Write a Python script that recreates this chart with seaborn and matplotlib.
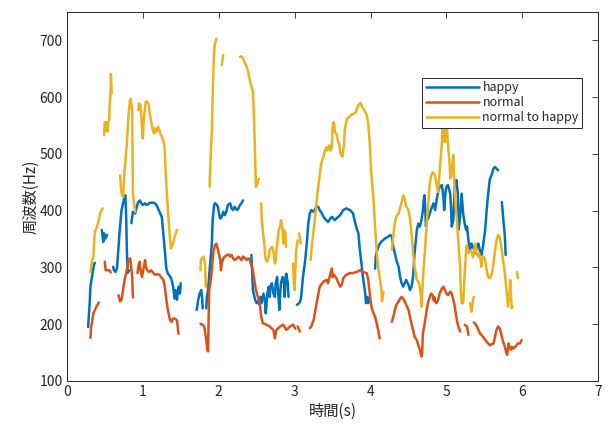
import pandas as pd
import matplotlib
matplotlib.use("Agg")
import matplotlib.pyplot as plt
import seaborn as sns

# pitch contours, one list of (time s, frequency Hz) per voiced segment
happy_segments = [
    [(0.28,195),(0.30,237),(0.31,266),(0.33,283),(0.35,299),(0.36,306),(0.37,308)],
    [(0.46,366),(0.48,345),(0.49,360),(0.51,351),(0.53,357)],
    [(0.61,301),(0.62,295),(0.64,292),(0.66,298),(0.68,336),(0.70,372),(0.72,401),(0.74,413),
     (0.76,424),(0.77,427),(0.78,395),(0.79,330),(0.80,290),(0.82,295)],
    [(0.85,378),(0.86,389),(0.87,398),(0.90,395),(0.91,401),(0.92,407),(0.94,415),(0.96,418),
     (0.98,413),(1.00,410),(1.03,413),(1.05,410),(1.07,411),(1.09,414),(1.12,414),(1.14,414),
     (1.16,413),(1.18,410),(1.20,404),(1.23,395),(1.25,389),(1.27,360),(1.29,330),(1.31,298),
     (1.33,289),(1.36,284),(1.38,278),(1.40,266),(1.42,245),(1.43,260),(1.45,243),(1.47,266),
     (1.49,254),(1.50,272)],
    [(1.71,225),(1.73,243),(1.75,254),(1.77,260),(1.78,248),(1.79,228)],
    [(1.835,228),(1.845,248),(1.86,260),(1.88,295),(1.91,342),(1.92,383),(1.94,410),(1.95,413),
     (1.97,411),(1.99,407),(2.00,398),(2.02,386),(2.04,389),(2.06,398),(2.08,392),(2.10,398),
     (2.12,410),(2.15,413),(2.17,404),(2.19,401),(2.21,407),(2.24,401),(2.26,404),(2.28,410),
     (2.30,413),(2.32,418)],
    [(2.43,322),(2.44,295),(2.45,260),(2.48,243),(2.50,237),(2.52,240),(2.54,234),(2.55,248),
     (2.56,237),(2.59,254),(2.61,237),(2.62,219),(2.64,254),(2.66,266),(2.67,248),(2.68,266),
     (2.70,272),(2.72,254),(2.74,248),(2.75,272),(2.77,283),(2.78,260),(2.80,225),(2.81,254),
     (2.82,272),(2.84,283),(2.86,272),(2.87,248),(2.88,283),(2.89,289),(2.91,272),(2.92,248)],
    [(3.03,234),(3.06,237),(3.08,243),(3.09,254),(3.11,283),(3.14,313),(3.16,342),(3.18,377),
     (3.20,395),(3.22,401),(3.25,398),(3.29,407),(3.31,407),(3.33,401),(3.36,395),(3.38,389),
     (3.42,383),(3.44,380),(3.47,386),(3.49,389),(3.51,386),(3.53,383),(3.55,386),(3.60,392),
     (3.64,401),(3.68,404),(3.73,401),(3.77,395),(3.79,383),(3.81,372),(3.84,360),(3.86,330),
     (3.88,307),(3.90,283),(3.93,254),(3.94,237),(3.96,248),(3.97,237),(3.98,243)],
    [(4.06,298),(4.07,319),(4.09,331),(4.11,339),(4.14,345),(4.19,351),(4.23,354),(4.26,357),
     (4.28,354),(4.30,336),(4.32,325),(4.34,313),(4.37,301),(4.39,283),(4.41,272),(4.43,266),
     (4.45,272),(4.47,278),(4.50,269),(4.52,260),(4.54,266),(4.56,283),(4.58,325),(4.61,366),
     (4.63,377),(4.65,372),(4.67,383),(4.69,401),(4.70,418),(4.71,427),(4.72,407),(4.73,372),
     (4.74,383),(4.76,386),(4.78,395),(4.81,407),(4.83,413),(4.85,401),(4.87,418),(4.89,433),
     (4.91,442),(4.94,445),(4.96,424),(4.97,401),(4.99,436),(5.00,442),(5.02,445),(5.05,430),
     (5.06,407),(5.07,372),(5.09,383),(5.11,442),(5.13,454),(5.15,430),(5.16,366),(5.18,389),
     (5.20,430),(5.22,395),(5.24,377),(5.26,366),(5.27,372),(5.29,348),(5.31,330),(5.33,342),
     (5.35,336),(5.38,325),(5.40,336),(5.42,342),(5.44,330),(5.46,322),(5.48,336),(5.51,366),
     (5.53,401),(5.55,430),(5.57,454),(5.60,465),(5.62,474),(5.64,477),(5.66,474),(5.68,471)],
    [(5.73,415),(5.75,383),(5.77,354),(5.78,322)],
]

normal_segments = [
    [(0.31,176),(0.32,196),(0.33,202),(0.35,220),(0.37,225),(0.39,231),(0.42,238)],
    [(0.50,310),(0.51,295),(0.54,295),(0.56,295),(0.58,291)],
    [(0.68,251),(0.70,240),(0.72,243),(0.74,260),(0.76,278),(0.79,295),(0.81,313),(0.83,316),
     (0.84,310),(0.86,283),(0.87,247)],
    [(0.93,290),(0.94,301),(0.96,310),(0.97,295),(0.99,283),(1.01,298),(1.03,313),(1.04,301),
     (1.06,295),(1.08,292),(1.11,295),(1.14,290),(1.16,287),(1.19,288),(1.22,287),(1.24,283),
     (1.27,278),(1.29,266),(1.31,243),(1.33,225),(1.36,207),(1.38,204),(1.40,210),(1.42,210),
     (1.45,207),(1.46,196),(1.47,183)],
    [(1.76,201),(1.78,199),(1.79,199),(1.81,196),(1.83,178),(1.85,155),(1.86,152),(1.87,231),
     (1.875,260),(1.89,272),(1.91,295),(1.93,328),(1.95,339),(1.97,342),(1.99,331),(2.02,313),
     (2.03,295),(2.04,307),(2.06,316),(2.08,319),(2.11,322),(2.13,323),(2.15,319),(2.17,322),
     (2.19,316),(2.21,313),(2.24,316),(2.26,319),(2.28,316),(2.30,313),(2.32,319),(2.35,316),
     (2.37,313),(2.39,316),(2.41,313),(2.43,304),(2.45,295),(2.49,260),(2.54,237),(2.56,213),
     (2.58,202),(2.63,199),(2.67,196),(2.72,190),(2.74,175),(2.76,190),(2.81,196),(2.85,199),
     (2.89,190),(2.94,196),(2.98,199),(3.01,192)],
    [(3.04,196),(3.07,187)],
    [(3.20,193),(3.22,196),(3.25,207),(3.29,237),(3.33,266),(3.38,275),(3.42,278),(3.44,272),
     (3.46,283),(3.49,298),(3.50,283),(3.52,287),(3.55,281),(3.58,272),(3.60,266),(3.62,269),
     (3.64,281),(3.68,287),(3.73,290),(3.77,290),(3.82,292),(3.86,295),(3.90,292),(3.95,290),
     (3.97,278),(3.99,254),(4.01,231),(4.04,219),(4.06,213),(4.08,202),(4.10,190),(4.12,175)],
    [(4.28,204),(4.30,213),(4.32,225),(4.34,234),(4.37,240),(4.39,245),(4.41,248),(4.43,245),
     (4.45,240),(4.47,234),(4.50,225),(4.52,213),(4.54,201),(4.56,190),(4.58,178),(4.61,172),
     (4.63,163),(4.65,155),(4.67,143),(4.68,149),(4.69,184),(4.72,207),(4.74,225),(4.76,240),
     (4.78,248),(4.80,254),(4.82,251),(4.83,242),(4.84,248),(4.85,240),(4.87,237),(4.89,243),
     (4.91,254),(4.94,263),(4.96,266),(4.98,260),(5.00,254),(5.02,251),(5.05,257),(5.07,254),
     (5.09,243),(5.11,231),(5.13,213),(5.15,199),(5.18,187)],
    [(5.24,199),(5.27,196),(5.29,181)],
    [(5.36,203),(5.38,201),(5.40,196),(5.42,190),(5.44,184),(5.48,178),(5.53,169),(5.57,163),
     (5.62,166),(5.64,178),(5.66,190),(5.68,196),(5.70,193),(5.72,184),(5.74,172),(5.77,160),
     (5.79,149),(5.80,146),(5.82,166),(5.83,160),(5.85,155),(5.86,160),(5.88,157),(5.90,160),
     (5.92,162),(5.94,166),(5.97,166),(5.99,172)],
]

n2h_segments = [
    [(0.31,292),(0.33,310),(0.35,319),(0.36,348),(0.37,363),(0.39,369),(0.41,378),(0.43,389),
     (0.44,396),(0.46,401),(0.47,404)],
    [(0.490,533),(0.500,556),(0.513,541),(0.522,556),(0.535,539),(0.544,556),(0.557,559),
     (0.562,583),(0.575,606),(0.580,641),(0.589,606)],
    [(0.70,462),(0.72,430),(0.74,424),(0.76,471),(0.79,518),(0.81,565),(0.83,594),(0.84,597),
     (0.86,577),(0.865,506),(0.87,430),(0.89,407),(0.90,398)],
    [(0.94,577),(0.95,589),(0.97,586),(0.98,571),(0.99,542),(1.00,527),(1.01,553),(1.03,583),
     (1.04,592),(1.06,592),(1.08,586),(1.09,571),(1.12,550),(1.13,542),(1.15,536),(1.16,545),
     (1.18,539),(1.20,548),(1.22,542),(1.23,536),(1.25,530),(1.27,524),(1.29,506),(1.30,471),
     (1.32,424),(1.34,383),(1.36,348),(1.37,333),(1.38,336),(1.40,343),(1.42,354),(1.45,366)],
    [(1.76,295),(1.765,313),(1.78,316),(1.80,319),(1.82,307),(1.83,266)],
    [(1.88,442),(1.89,483),(1.91,542),(1.92,600),(1.93,647),(1.94,682),(1.95,694),(1.97,703)],
    [(2.04,656),(2.06,674)],
    [(2.28,671),(2.30,672),(2.32,668),(2.35,659),(2.37,653),(2.39,644),(2.40,635),(2.42,624),
     (2.44,615),(2.45,609),(2.46,583),(2.47,542),(2.48,495),(2.485,465),(2.49,442),(2.51,448),
     (2.52,454),(2.53,456)],
    [(2.56,413),(2.565,389),(2.58,366),(2.60,342),(2.61,325),(2.62,313),(2.64,310),(2.66,319),
     (2.67,330),(2.70,336),(2.72,330),(2.74,307),(2.75,313),(2.77,342),(2.78,354),(2.79,366),
     (2.81,372),(2.82,383),(2.83,377),(2.84,366),(2.85,342),(2.86,366),(2.88,360),(2.885,336)],
    [(2.98,307),(2.99,272),(3.00,260),(3.01,295),(3.02,330),(3.04,348)],
    [(3.06,360),(3.08,342)],
    [(3.21,313),(3.23,342),(3.27,389),(3.30,430),(3.33,462),(3.35,483),(3.38,495),(3.40,506),
     (3.42,512),(3.43,506),(3.46,515),(3.47,506),(3.49,512),(3.50,547),(3.51,556),(3.52,553),
     (3.53,539),(3.55,536),(3.57,524),(3.59,515),(3.60,503),(3.61,498),(3.63,495),(3.65,515),
     (3.66,542),(3.68,556),(3.69,562),(3.72,565),(3.74,568),(3.76,570),(3.78,571),(3.81,574),
     (3.82,580),(3.84,586),(3.86,589),(3.87,590),(3.88,586),(3.90,580),(3.93,574),(3.95,568),
     (3.97,553),(3.99,518),(4.01,465),(4.04,418),(4.06,372),(4.08,331),(4.10,301),(4.12,283),
     (4.14,266),(4.15,240),(4.17,257)],
    [(4.28,331),(4.30,357),(4.32,378),(4.34,390),(4.37,395),(4.39,405),(4.41,415),(4.43,427),
     (4.45,420),(4.47,408),(4.50,401),(4.52,386),(4.54,360),(4.56,325),(4.58,301),(4.61,278),
     (4.64,272),(4.66,254),(4.67,231),(4.68,254),(4.70,301),(4.72,336),(4.74,377),(4.76,410),
     (4.78,448),(4.80,462),(4.82,468),(4.85,462),(4.87,445),(4.89,433),(4.91,468),(4.94,520),
     (4.95,560),(4.96,545),(4.98,521),(5.00,565),(5.02,515),(5.04,486),(5.05,457),(5.07,468),
     (5.08,486),(5.09,498),(5.10,457),(5.12,410),(5.14,380),(5.16,339),(5.18,301),(5.19,260),
     (5.20,237),(5.22,237),(5.24,289),(5.26,333),(5.27,339),(5.29,325),(5.31,330),(5.33,327),
     (5.35,318),(5.37,333),(5.38,342),(5.39,330),(5.40,325),(5.42,319),(5.43,325),(5.45,313),
     (5.46,301),(5.47,316),(5.49,319),(5.51,313),(5.53,295),(5.55,283),(5.57,281),(5.60,289),
     (5.62,307),(5.64,330),(5.66,348),(5.68,357),(5.70,354),(5.72,339),(5.74,319),(5.77,289),
     (5.79,260),(5.81,231),(5.83,254),(5.84,278),(5.845,260),(5.86,228),(5.87,231)],
    [(5.31,237),(5.33,222),(5.34,231),(5.35,243),(5.36,248)],
    [(5.93,292),(5.94,281)],
]

series_names = ["happy", "normal", "normal to happy"]
series_colors = ["#0072BD", "#D95319", "#EDB120"]

rows = []
for name, segs in zip(series_names, [happy_segments, normal_segments, n2h_segments]):
    for i, seg in enumerate(segs):
        for t, f in seg:
            rows.append({"t": t, "f": f, "series": name, "seg": f"{name}_{i}"})
df = pd.DataFrame(rows)

sns.set_style("white")
plt.rcParams["font.family"] = ["Noto Sans CJK JP", "DejaVu Sans"]
plt.rcParams["xtick.direction"] = "in"
plt.rcParams["ytick.direction"] = "in"

fig = plt.figure(figsize=(6.08, 4.28), dpi=100)
ax = fig.add_axes([0.110, 0.110, 0.874, 0.862])

sns.lineplot(data=df, x="t", y="f", hue="series", units="seg", estimator=None,
             sort=False, palette=series_colors, hue_order=series_names,
             linewidth=1.8, ax=ax)

ax.set_xlim(0, 7)
ax.set_ylim(100, 750)
ax.set_xticks(range(0, 8))
ax.set_yticks(range(100, 800, 100))
ax.tick_params(axis="both", which="both", length=4, width=0.6, colors="#262626",
               labelsize=10, top=True, right=True, pad=3)
for s in ax.spines.values():
    s.set_color("#262626")
    s.set_linewidth(0.7)
ax.set_xlabel("時間(s)", fontsize=11, color="#262626", labelpad=3)
ax.set_ylabel("周波数(Hz)", fontsize=11, color="#262626", labelpad=0)

handles, labels = ax.get_legend_handles_labels()
leg = ax.legend(handles, labels, loc="upper left", bbox_to_anchor=(0.669, 0.822),
                borderaxespad=0, frameon=True, fancybox=False, framealpha=1,
                edgecolor="#262626", fontsize=9, handlelength=4.2,
                handletextpad=0.3, labelspacing=0.15, borderpad=0.3)
leg.get_frame().set_linewidth(0.7)
leg.set_zorder(10)

fig.savefig("out.png", dpi=100)
plt.close(fig)
